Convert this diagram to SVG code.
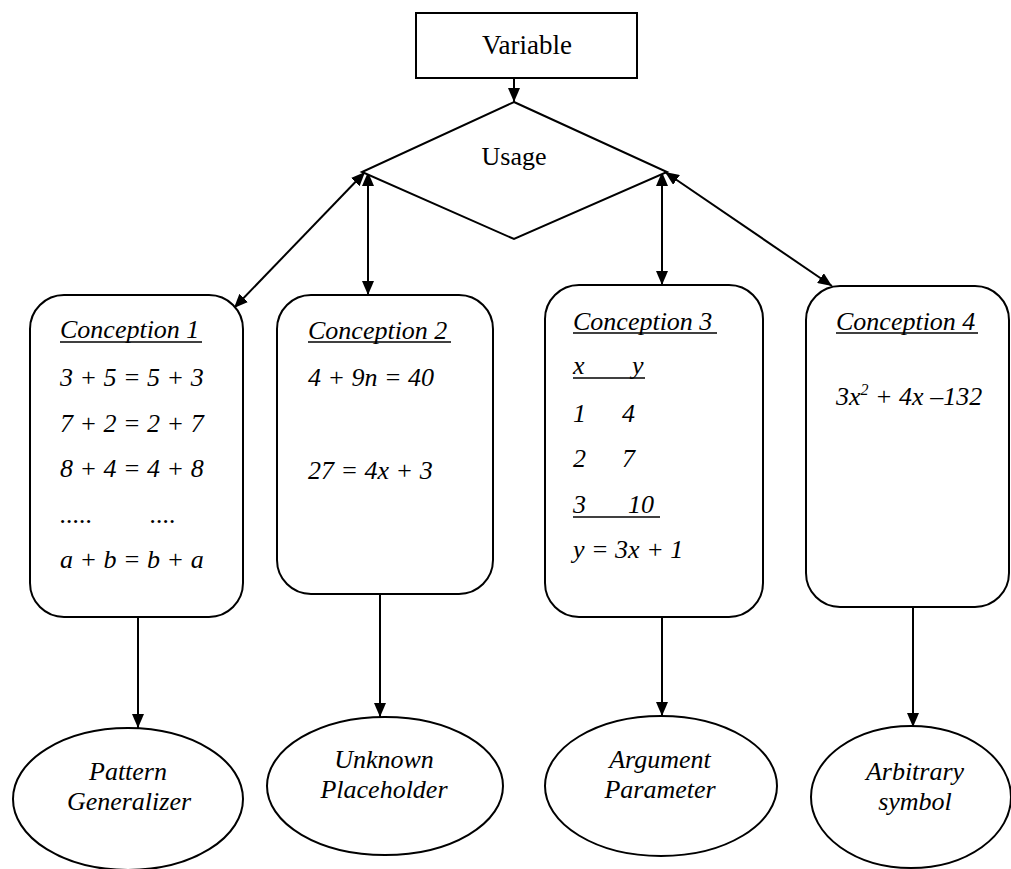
<svg xmlns="http://www.w3.org/2000/svg" width="1011" height="869" viewBox="0 0 1011 869">
<style>
.s{fill:#fff;stroke:#000;stroke-width:2}
.i{font-style:italic}
.c{stroke:#000;stroke-width:2;fill:none}
.u{stroke:#000;stroke-width:1.5}
</style>
<defs>
<marker id="ah" viewBox="0 0 14 12" refX="14" refY="6" markerWidth="14" markerHeight="12" markerUnits="userSpaceOnUse" orient="auto-start-reverse">
<path d="M0,0 L14,6 L0,12 Z" fill="#000"/>
</marker>
</defs>
<g id="connectors">
<line class="c" x1="514" y1="78" x2="514" y2="102" marker-end="url(#ah)"/>
<line class="c" x1="365" y1="172" x2="234" y2="308" marker-start="url(#ah)" marker-end="url(#ah)"/>
<line class="c" x1="368" y1="172" x2="368" y2="295" marker-start="url(#ah)" marker-end="url(#ah)"/>
<line class="c" x1="662" y1="172" x2="662" y2="285" marker-start="url(#ah)" marker-end="url(#ah)"/>
<line class="c" x1="665" y1="172" x2="832" y2="286" marker-start="url(#ah)" marker-end="url(#ah)"/>
<line class="c" x1="138" y1="617" x2="138" y2="728" marker-end="url(#ah)"/>
<line class="c" x1="380" y1="594" x2="380" y2="717" marker-end="url(#ah)"/>
<line class="c" x1="662" y1="617" x2="662" y2="716" marker-end="url(#ah)"/>
<line class="c" x1="913" y1="607" x2="913" y2="727" marker-end="url(#ah)"/>
</g>
<g font-family="Liberation Serif, Times New Roman, serif" font-size="26" fill="#000">
<g id="variable">
<rect class="s" x="416" y="13" width="221" height="65"/>
<text x="527" y="54" text-anchor="middle" font-size="27">Variable</text>
</g>
<g id="usage">
<polygon class="s" points="514,102 667,172 514,239 362,172"/>
<text x="514" y="165" text-anchor="middle">Usage</text>
</g>
<g id="conception1" font-style="italic">
<rect class="s" x="30" y="295" width="213" height="322" rx="34" ry="34"/>
<text x="60" y="338">Conception 1</text>
<line class="u" x1="60" y1="342" x2="202" y2="342"/>
<text x="60" y="386">3 + 5 = 5 + 3</text>
<text x="60" y="432">7 + 2 = 2 + 7</text>
<text x="60" y="477">8 + 4 = 4 + 8</text>
<text x="60" y="523">.....</text>
<text x="150" y="523">....</text>
<text x="60" y="568">a + b = b + a</text>
</g>
<g id="conception2" font-style="italic">
<rect class="s" x="277" y="295" width="216" height="299" rx="34" ry="34"/>
<text x="308" y="339">Conception 2</text>
<line class="u" x1="308" y1="342" x2="451" y2="342"/>
<text x="308" y="386">4 + 9n = 40</text>
<text x="308" y="479">27 = 4x + 3</text>
</g>
<g id="conception3" font-style="italic">
<rect class="s" x="545" y="285" width="218" height="332" rx="34" ry="34"/>
<text x="573" y="330">Conception 3</text>
<line class="u" x1="573" y1="333" x2="717" y2="333"/>
<text x="573" y="374">x</text>
<text x="632" y="374">y</text>
<line class="u" x1="573" y1="378" x2="645" y2="378"/>
<text x="573" y="422">1</text>
<text x="622" y="422">4</text>
<text x="573" y="467">2</text>
<text x="622" y="467">7</text>
<text x="573" y="513">3</text>
<text x="628" y="513">10</text>
<line class="u" x1="573" y1="517" x2="660" y2="517"/>
<text x="573" y="558">y = 3x + 1</text>
</g>
<g id="conception4" font-style="italic">
<rect class="s" x="806" y="286" width="203" height="321" rx="34" ry="34"/>
<text x="836" y="330">Conception 4</text>
<line class="u" x1="836" y1="333" x2="978" y2="333"/>
<text x="836" y="405">3x<tspan font-size="16" dy="-10">2</tspan><tspan dy="10"> + 4x –132</tspan></text>
</g>
<g id="pattern" font-style="italic">
<ellipse class="s" cx="128" cy="799" rx="115" ry="71"/>
<text x="128" y="780" text-anchor="middle">Pattern</text>
<text x="129" y="810" text-anchor="middle">Generalizer</text>
</g>
<g id="unknown" font-style="italic">
<ellipse class="s" cx="385" cy="786" rx="118" ry="69"/>
<text x="384" y="768" text-anchor="middle">Unknown</text>
<text x="384" y="798" text-anchor="middle">Placeholder</text>
</g>
<g id="argument" font-style="italic">
<ellipse class="s" cx="661" cy="786" rx="116" ry="70"/>
<text x="660" y="768" text-anchor="middle">Argument</text>
<text x="660" y="798" text-anchor="middle">Parameter</text>
</g>
<g id="arbitrary" font-style="italic">
<ellipse class="s" cx="911" cy="797" rx="100" ry="71"/>
<text x="915" y="780" text-anchor="middle">Arbitrary</text>
<text x="915" y="810" text-anchor="middle">symbol</text>
</g>
</g>
</svg>
